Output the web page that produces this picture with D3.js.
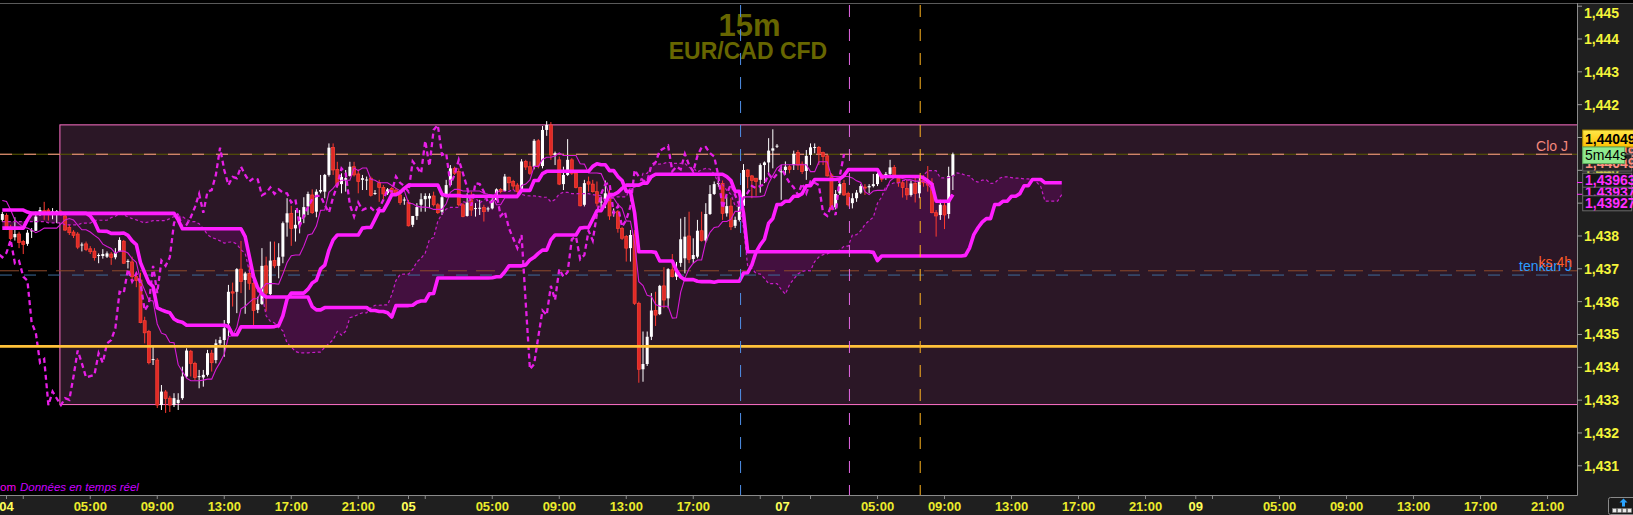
<!DOCTYPE html>
<html><head><meta charset="utf-8">
<script src="https://cdn.jsdelivr.net/npm/d3@7"></script>
<style>
html,body{margin:0;padding:0;background:#000;overflow:hidden}
svg{display:block}
text{font-family:"Liberation Sans",Arial,sans-serif}
</style></head><body>
<svg id="c" width="1633" height="515"></svg>
<script>
// ---------------- DATA ----------------
const firstSlot = -1;               // slot index of first candle (15-minute slots)
// [open, high, low, close]
const ohlc = [
[1.43849,1.43873,1.43843,1.43867],[1.43863,1.43869,1.43818,1.43821],[1.43821,1.43834,1.43786,1.43792],[1.43796,1.43857,1.43786,1.43806],
[1.43806,1.43813,1.43763,1.43780],[1.43783,1.43788,1.43745,1.43774],[1.43776,1.43818,1.43770,1.43810],[1.43816,1.43824,1.43794,1.43817],
[1.43816,1.43874,1.43815,1.43859],[1.43873,1.43888,1.43861,1.43879],[1.43877,1.43904,1.43849,1.43873],[1.43879,1.43885,1.43847,1.43869],
[1.43874,1.43885,1.43851,1.43875],[1.43873,1.43879,1.43839,1.43876],[1.43873,1.43879,1.43861,1.43867],[1.43861,1.43870,1.43815,1.43818],
[1.43826,1.43834,1.43803,1.43810],[1.43812,1.43818,1.43794,1.43802],[1.43806,1.43812,1.43760,1.43766],[1.43771,1.43780,1.43753,1.43774],
[1.43776,1.43783,1.43754,1.43759],[1.43761,1.43769,1.43745,1.43752],[1.43754,1.43763,1.43725,1.43734],[1.43741,1.43747,1.43717,1.43742],
[1.43739,1.43760,1.43731,1.43745],[1.43737,1.43753,1.43733,1.43747],[1.43745,1.43751,1.43712,1.43735],[1.43735,1.43763,1.43729,1.43749],
[1.43753,1.43796,1.43751,1.43788],[1.43784,1.43788,1.43715,1.43717],[1.43721,1.43729,1.43701,1.43724],[1.43721,1.43737,1.43666,1.43676],
[1.43676,1.43690,1.43644,1.43664],[1.43666,1.43688,1.43534,1.43536],[1.43542,1.43554,1.43473,1.43505],[1.43509,1.43514,1.43409,1.43414],
[1.43422,1.43468,1.43407,1.43425],[1.43422,1.43428,1.43276,1.43285],[1.43285,1.43346,1.43270,1.43326],[1.43325,1.43331,1.43261,1.43305],
[1.43306,1.43313,1.43264,1.43285],[1.43285,1.43321,1.43279,1.43306],[1.43291,1.43321,1.43270,1.43301],[1.43306,1.43402,1.43301,1.43372],
[1.43372,1.43458,1.43367,1.43451],[1.43449,1.43453,1.43372,1.43412],[1.43412,1.43417,1.43361,1.43369],[1.43372,1.43392,1.43336,1.43373],
[1.43369,1.43392,1.43341,1.43377],[1.43377,1.43453,1.43372,1.43443],[1.43443,1.43453,1.43387,1.43414],[1.43422,1.43485,1.43412,1.43473],
[1.43473,1.43493,1.43463,1.43483],[1.43483,1.43544,1.43432,1.43519],[1.43534,1.43651,1.43493,1.43630],[1.43630,1.43658,1.43585,1.43626],
[1.43630,1.43702,1.43565,1.43699],[1.43699,1.43785,1.43626,1.43661],[1.43666,1.43691,1.43563,1.43686],[1.43686,1.43709,1.43636,1.43656],
[1.43656,1.43666,1.43524,1.43573],[1.43575,1.43615,1.43565,1.43593],[1.43593,1.43763,1.43590,1.43709],[1.43709,1.43737,1.43570,1.43626],
[1.43623,1.43783,1.43620,1.43725],[1.43725,1.43783,1.43702,1.43709],[1.43709,1.43778,1.43671,1.43735],[1.43737,1.43844,1.43717,1.43839],
[1.43841,1.43915,1.43798,1.43869],[1.43869,1.43892,1.43770,1.43823],[1.43823,1.43879,1.43783,1.43834],[1.43834,1.43879,1.43808,1.43857],
[1.43857,1.43918,1.43839,1.43888],[1.43890,1.43935,1.43864,1.43928],[1.43925,1.43942,1.43867,1.43871],[1.43874,1.43942,1.43857,1.43935],
[1.43935,1.43986,1.43930,1.43940],[1.43935,1.43989,1.43915,1.43986],[1.43986,1.44082,1.43981,1.44069],[1.44070,1.44082,1.43986,1.44001],
[1.44003,1.44026,1.43950,1.43955],[1.43958,1.43991,1.43930,1.43980],[1.43971,1.44001,1.43935,1.43976],[1.43983,1.44026,1.43981,1.44011],
[1.44011,1.44026,1.43981,1.43986],[1.43989,1.44003,1.43930,1.43966],[1.43971,1.43986,1.43940,1.43976],[1.43971,1.43981,1.43940,1.43972],
[1.43976,1.43981,1.43920,1.43924],[1.43930,1.43940,1.43925,1.43931],[1.43962,1.43971,1.43904,1.43948],[1.43948,1.43955,1.43912,1.43928],
[1.43930,1.43946,1.43925,1.43942],[1.43945,1.43950,1.43928,1.43932],[1.43940,1.43946,1.43925,1.43930],[1.43925,1.43930,1.43895,1.43902],
[1.43910,1.43918,1.43895,1.43911],[1.43902,1.43910,1.43829,1.43831],[1.43834,1.43861,1.43827,1.43861],[1.43861,1.43900,1.43849,1.43888],
[1.43895,1.43930,1.43874,1.43912],[1.43912,1.43930,1.43874,1.43922],[1.43914,1.43930,1.43885,1.43922],[1.43922,1.43935,1.43890,1.43895],
[1.43895,1.43900,1.43867,1.43871],[1.43874,1.43925,1.43864,1.43918],[1.43920,1.43971,1.43918,1.43955],[1.43955,1.44016,1.43952,1.44006],
[1.44006,1.44011,1.43986,1.43991],[1.43996,1.44006,1.43890,1.43895],[1.43895,1.43900,1.43857,1.43859],[1.43861,1.43930,1.43859,1.43902],
[1.43910,1.43935,1.43861,1.43879],[1.43884,1.43900,1.43859,1.43885],[1.43885,1.43910,1.43864,1.43886],[1.43887,1.43895,1.43844,1.43874],
[1.43883,1.43889,1.43874,1.43884],[1.43884,1.43915,1.43881,1.43910],[1.43910,1.43945,1.43908,1.43942],[1.43942,1.43946,1.43930,1.43935],
[1.43937,1.43989,1.43935,1.43981],[1.43979,1.43981,1.43940,1.43962],[1.43966,1.43971,1.43940,1.43952],[1.43955,1.43961,1.43930,1.43935],
[1.43940,1.44034,1.43938,1.44027],[1.44027,1.44032,1.44001,1.44010],[1.44011,1.44027,1.43986,1.43991],[1.44011,1.44095,1.44003,1.44090],
[1.44090,1.44095,1.44006,1.44013],[1.44013,1.44135,1.44006,1.44123],[1.44123,1.44150,1.44105,1.44138],[1.44138,1.44147,1.44032,1.44047],
[1.44047,1.44057,1.44016,1.44052],[1.44032,1.44042,1.43955,1.43958],[1.43958,1.44011,1.43940,1.43986],[1.43986,1.44095,1.43983,1.44032],
[1.44032,1.44037,1.43986,1.43991],[1.43991,1.43996,1.43945,1.43948],[1.43948,1.43950,1.43890,1.43892],[1.43895,1.43971,1.43890,1.43961],
[1.43965,1.43981,1.43935,1.43958],[1.43958,1.43971,1.43932,1.43935],[1.43935,1.43966,1.43890,1.43900],[1.43904,1.43920,1.43885,1.43905],
[1.43908,1.43969,1.43885,1.43930],[1.43930,1.43945,1.43849,1.43861],[1.43869,1.43884,1.43859,1.43874],[1.43874,1.43879,1.43810,1.43823],
[1.43823,1.43828,1.43788,1.43793],[1.43798,1.43803,1.43722,1.43763],[1.43763,1.43818,1.43722,1.43803],[1.43803,1.43818,1.43590,1.43595],
[1.43595,1.43600,1.43353,1.43394],[1.43394,1.43509,1.43356,1.43410],[1.43410,1.43509,1.43404,1.43493],[1.43493,1.43626,1.43483,1.43573],
[1.43573,1.43630,1.43526,1.43559],[1.43562,1.43651,1.43559,1.43648],[1.43648,1.43705,1.43580,1.43605],[1.43610,1.43702,1.43580,1.43699],
[1.43697,1.43745,1.43674,1.43676],[1.43676,1.43721,1.43666,1.43690],[1.43718,1.43853,1.43706,1.43790],[1.43732,1.43858,1.43686,1.43798],
[1.43800,1.43874,1.43717,1.43729],[1.43730,1.43793,1.43717,1.43742],[1.43737,1.43849,1.43732,1.43816],[1.43816,1.43874,1.43783,1.43786],
[1.43786,1.43900,1.43780,1.43867],[1.43867,1.43955,1.43864,1.43928],[1.43928,1.43966,1.43925,1.43958],[1.43960,1.43971,1.43950,1.43961],
[1.43960,1.43969,1.43849,1.43869],[1.43869,1.43920,1.43859,1.43891],[1.43891,1.43915,1.43818,1.43828],[1.43831,1.43859,1.43824,1.43849],
[1.43849,1.43915,1.43844,1.43890],[1.43892,1.44019,1.43890,1.44001],[1.44001,1.44003,1.43945,1.43981],[1.43983,1.43986,1.43915,1.43969],
[1.43976,1.43976,1.43922,1.43966],[1.43971,1.44021,1.43932,1.44016],[1.44016,1.44027,1.43961,1.44024],[1.44024,1.44098,1.43986,1.44060],
[1.44060,1.44125,1.44006,1.44067],[1.44074,1.44080,1.44068,1.44075],[1.43996,1.44016,1.43910,1.43997],[1.44001,1.44027,1.43986,1.44011],
[1.44011,1.44016,1.43991,1.44003],[1.44016,1.44060,1.44001,1.44050],[1.44054,1.44062,1.44001,1.44016],[1.44019,1.44027,1.43989,1.43996],
[1.43998,1.44062,1.43971,1.44044],[1.44047,1.44082,1.44016,1.44070],[1.44070,1.44082,1.44052,1.44071],[1.44070,1.44074,1.44016,1.44052],
[1.44054,1.44057,1.44016,1.44042],[1.44044,1.44047,1.43981,1.43983],[1.43986,1.43991,1.43879,1.43884],[1.43887,1.43940,1.43881,1.43928],
[1.43930,1.43966,1.43925,1.43958],[1.43960,1.43971,1.43922,1.43925],[1.43930,1.43935,1.43890,1.43895],[1.43900,1.43930,1.43884,1.43915],
[1.43915,1.43940,1.43904,1.43932],[1.43932,1.43958,1.43928,1.43952],[1.43949,1.43958,1.43925,1.43946],[1.43948,1.43958,1.43930,1.43952],
[1.43952,1.43989,1.43948,1.43958],[1.43958,1.43992,1.43952,1.43989],[1.43986,1.43989,1.43965,1.43973],[1.43983,1.43995,1.43971,1.43989],
[1.43989,1.44032,1.43986,1.44009],[1.44009,1.44016,1.43981,1.43983],[1.43976,1.43981,1.43950,1.43962],[1.43962,1.43971,1.43917,1.43948],
[1.43945,1.43971,1.43910,1.43925],[1.43925,1.43969,1.43920,1.43960],[1.43960,1.43981,1.43902,1.43930],[1.43930,1.43981,1.43915,1.43966],
[1.43971,1.43986,1.43950,1.43962],[1.43966,1.44013,1.43935,1.43955],[1.43960,1.43976,1.43869,1.43871],[1.43871,1.43879,1.43798,1.43861],
[1.43864,1.43910,1.43849,1.43895],[1.43892,1.43908,1.43821,1.43864],[1.43867,1.44011,1.43853,1.43983],[1.43983,1.44054,1.43940,1.44049]
];
// Ichimoku lines: [slot, price]
const tenkan = [[-1,1.43908],[0,1.43905],[1,1.43879],[2,1.43849],[3,1.43837],[4,1.43827],[5,1.43824],[6,1.43818],[7,1.43810],[8,1.43816],[9,1.43824],[12,1.43824],[13,1.43837],[14,1.43849],[15,1.43853],[16,1.43849],[17,1.43833],[18,1.43819],[19,1.43819],[20,1.43812],[21,1.43802],[22,1.43793],[23,1.43775],[24,1.43768],[25,1.43762],[26,1.43747],[27,1.43754],[28,1.43754],[29,1.43748],[30,1.43731],[31,1.43720],[32,1.43665],[33,1.43635],[34,1.43604],[35,1.43602],[36,1.43532],[37,1.43504],[38,1.43499],[39,1.43476],[40,1.43475],[41,1.43408],[42,1.43387],[43,1.43367],[44,1.43359],[46,1.43359],[47,1.43361],[48,1.43364],[49,1.43364],[50,1.43393],[51,1.43415],[52,1.43440],[53,1.43493],[54,1.43497],[55,1.43521],[56,1.43578],[57,1.43586],[58,1.43598],[59,1.43609],[60,1.43609],[61,1.43639],[62,1.43655],[64,1.43655],[65,1.43653],[66,1.43684],[67,1.43719],[68,1.43740],[69,1.43742],[70,1.43742],[71,1.43769],[72,1.43803],[73,1.43807],[74,1.43830],[75,1.43878],[76,1.43879],[77,1.43933],[78,1.43945],[79,1.43961],[80,1.43970],[82,1.43970],[83,1.44007],[84,1.43999],[85,1.44007],[86,1.44007],[87,1.43973],[88,1.43970],[89,1.43962],[91,1.43962],[92,1.43954],[93,1.43945],[94,1.43938],[95,1.43938],[96,1.43900],[97,1.43898],[98,1.43891],[99,1.43888],[100,1.43888],[101,1.43886],[102,1.43881],[104,1.43881],[105,1.43898],[106,1.43933],[107,1.43942],[108,1.43942],[109,1.43937],[113,1.43937],[114,1.43930],[115,1.43927],[116,1.43925],[117,1.43895],[118,1.43895],[119,1.43916],[122,1.43916],[123,1.43954],[124,1.43958],[125,1.43971],[126,1.44012],[127,1.44012],[128,1.44033],[129,1.44040],[130,1.44040],[131,1.44044],[132,1.44053],[133,1.44045],[136,1.44045],[137,1.44020],[138,1.44019],[139,1.43992],[141,1.43992],[142,1.43990],[143,1.43961],[144,1.43923],[145,1.43915],[146,1.43896],[147,1.43884],[148,1.43846],[149,1.43845],[150,1.43779],[151,1.43661],[152,1.43649],[153,1.43619],[154,1.43616],[155,1.43591],[156,1.43586],[158,1.43586],[159,1.43550],[160,1.43551],[161,1.43629],[162,1.43671],[163,1.43700],[164,1.43717],[165,1.43727],[166,1.43727],[167,1.43783],[168,1.43811],[169,1.43826],[170,1.43828],[171,1.43844],[172,1.43844],[173,1.43851],[174,1.43875],[175,1.43875],[176,1.43919],[179,1.43919],[180,1.43920],[181,1.43923],[182,1.43961],[183,1.43984],[184,1.44007],[185,1.44017],[191,1.44017],[192,1.43996],[193,1.43996],[194,1.44026],[196,1.44026],[197,1.43981],[201,1.43981],[202,1.43977],[203,1.43968],[204,1.43963],[205,1.43935],[206,1.43926],[207,1.43937],[208,1.43939],[209,1.43939],[210,1.43940],[211,1.43968],[212,1.43978],[213,1.43978],[214,1.43975],[215,1.43971],[216,1.43971],[217,1.43967],[219,1.43967],[220,1.43959],[221,1.43941],[222,1.43906],[225,1.43906],[226,1.43926]];
const kijun = [[-1,1.43879],[4,1.43879],[5,1.43873],[6,1.43869],[19,1.43869],[20,1.43861],[21,1.43843],[22,1.43815],[24,1.43814],[25,1.43808],[27,1.43808],[28,1.43809],[29,1.43802],[30,1.43785],[31,1.43774],[32,1.43719],[33,1.43688],[34,1.43658],[35,1.43646],[36,1.43581],[37,1.43575],[38,1.43570],[39,1.43566],[40,1.43547],[41,1.43540],[42,1.43537],[43,1.43528],[52,1.43528],[53,1.43524],[54,1.43499],[55,1.43499],[56,1.43523],[63,1.43523],[64,1.43524],[65,1.43527],[66,1.43557],[67,1.43608],[68,1.43626],[71,1.43626],[72,1.43638],[73,1.43657],[74,1.43665],[75,1.43700],[76,1.43711],[77,1.43757],[78,1.43788],[79,1.43803],[84,1.43803],[85,1.43824],[86,1.43826],[87,1.43826],[88,1.43851],[89,1.43877],[90,1.43877],[91,1.43900],[92,1.43926],[93,1.43926],[94,1.43933],[95,1.43945],[96,1.43955],[103,1.43955],[104,1.43927],[105,1.43923],[108,1.43923],[109,1.43921],[122,1.43921],[123,1.43939],[125,1.43939],[126,1.43969],[127,1.43969],[128,1.43990],[129,1.43997],[139,1.43997],[140,1.44012],[141,1.44020],[142,1.44017],[143,1.44017],[144,1.43999],[145,1.43999],[146,1.43981],[147,1.43969],[148,1.43936],[149,1.43936],[150,1.43870],[151,1.43752],[154,1.43752],[155,1.43750],[156,1.43724],[159,1.43724],[160,1.43695],[161,1.43675],[162,1.43667],[164,1.43667],[165,1.43662],[166,1.43661],[168,1.43661],[169,1.43659],[170,1.43662],[175,1.43662],[176,1.43687],[177,1.43688],[178,1.43712],[179,1.43751],[180,1.43773],[181,1.43790],[182,1.43839],[183,1.43853],[184,1.43896],[185,1.43896],[186,1.43906],[187,1.43906],[188,1.43921],[189,1.43921],[190,1.43929],[191,1.43953],[192,1.43953],[193,1.43972],[198,1.43972],[199,1.43974],[200,1.43984],[201,1.44002],[208,1.44002],[209,1.43980],[210,1.43981],[218,1.43981],[219,1.43977],[220,1.43968],[221,1.43958],[222,1.43906],[225,1.43906],[226,1.43926]];
const senkouA = [[-1,1.43844],[9,1.43844],[10,1.43840],[13,1.43840],[14,1.43834],[17,1.43834],[18,1.43839],[20,1.43839],[21,1.43848],[24,1.43848],[25,1.43856],[26,1.43860],[27,1.43868],[28,1.43864],[29,1.43858],[30,1.43853],[31,1.43849],[32,1.43844],[33,1.43840],[34,1.43843],[35,1.43847],[38,1.43847],[39,1.43853],[40,1.43859],[41,1.43861],[42,1.43859],[43,1.43851],[44,1.43844],[45,1.43844],[46,1.43837],[47,1.43823],[48,1.43804],[49,1.43795],[50,1.43791],[51,1.43785],[52,1.43778],[53,1.43781],[54,1.43782],[55,1.43775],[56,1.43758],[57,1.43747],[58,1.43692],[59,1.43662],[60,1.43631],[61,1.43624],[62,1.43557],[63,1.43540],[64,1.43535],[65,1.43521],[66,1.43511],[67,1.43474],[68,1.43462],[69,1.43448],[70,1.43444],[72,1.43444],[73,1.43445],[74,1.43446],[75,1.43446],[76,1.43461],[77,1.43472],[78,1.43484],[79,1.43509],[80,1.43498],[81,1.43510],[82,1.43551],[83,1.43555],[84,1.43561],[85,1.43566],[86,1.43566],[87,1.43581],[88,1.43589],[89,1.43589],[90,1.43590],[91,1.43590],[92,1.43621],[93,1.43664],[94,1.43683],[95,1.43684],[96,1.43684],[97,1.43698],[98,1.43721],[99,1.43732],[100,1.43748],[101,1.43789],[102,1.43795],[103,1.43845],[104,1.43867],[105,1.43882],[106,1.43887],[108,1.43887],[109,1.43905],[110,1.43901],[111,1.43916],[112,1.43917],[113,1.43900],[114,1.43911],[115,1.43920],[116,1.43920],[117,1.43931],[118,1.43940],[119,1.43936],[120,1.43936],[121,1.43942],[122,1.43928],[123,1.43927],[124,1.43923],[125,1.43922],[126,1.43922],[127,1.43921],[128,1.43918],[129,1.43918],[130,1.43904],[131,1.43911],[132,1.43928],[133,1.43933],[134,1.43933],[135,1.43929],[139,1.43929],[140,1.43926],[141,1.43924],[142,1.43923],[143,1.43908],[144,1.43908],[145,1.43919],[148,1.43919],[149,1.43947],[150,1.43949],[151,1.43955],[152,1.43991],[153,1.43991],[154,1.44012],[155,1.44019],[156,1.44019],[157,1.44021],[158,1.44025],[159,1.44021],[162,1.44021],[163,1.44009],[164,1.44008],[165,1.43995],[166,1.44002],[167,1.44006],[168,1.44004],[169,1.43989],[170,1.43961],[171,1.43957],[172,1.43939],[173,1.43927],[174,1.43891],[175,1.43891],[176,1.43825],[177,1.43707],[178,1.43701],[179,1.43686],[180,1.43684],[181,1.43671],[182,1.43655],[184,1.43655],[185,1.43637],[186,1.43623],[187,1.43652],[188,1.43669],[189,1.43684],[190,1.43692],[191,1.43695],[192,1.43694],[193,1.43722],[194,1.43736],[195,1.43743],[196,1.43745],[197,1.43753],[198,1.43753],[199,1.43757],[200,1.43769],[201,1.43769],[202,1.43803],[203,1.43804],[204,1.43816],[205,1.43835],[206,1.43847],[207,1.43857],[208,1.43900],[209,1.43919],[210,1.43952],[211,1.43957],[212,1.43962],[213,1.43962],[214,1.43969],[215,1.43969],[216,1.43973],[217,1.43985],[218,1.43975],[219,1.43984],[220,1.43999],[222,1.43999],[223,1.43977],[224,1.43977],[225,1.43978],[226,1.43983],[227,1.43992],[228,1.43990],[229,1.43985],[230,1.43983],[231,1.43969],[232,1.43964],[233,1.43970],[234,1.43971],[235,1.43960],[236,1.43961],[237,1.43975],[238,1.43980],[239,1.43980],[240,1.43978],[241,1.43976],[242,1.43976],[243,1.43974],[244,1.43974],[245,1.43972],[246,1.43964],[247,1.43950],[248,1.43906],[251,1.43906],[252,1.43926]];
const senkouB = [[-1,1.43824],[4,1.43824],[5,1.43849],[6,1.43869],[40,1.43869],[41,1.43849],[42,1.43822],[56,1.43822],[57,1.43798],[58,1.43737],[59,1.43676],[60,1.43642],[61,1.43624],[62,1.43614],[72,1.43614],[73,1.43585],[74,1.43575],[75,1.43575],[76,1.43582],[86,1.43582],[87,1.43573],[88,1.43573],[89,1.43570],[90,1.43570],[91,1.43566],[92,1.43553],[93,1.43588],[96,1.43588],[97,1.43589],[98,1.43598],[99,1.43602],[100,1.43602],[101,1.43624],[102,1.43625],[103,1.43672],[115,1.43672],[116,1.43673],[117,1.43676],[118,1.43676],[119,1.43691],[120,1.43709],[123,1.43709],[124,1.43712],[125,1.43727],[126,1.43735],[127,1.43747],[128,1.43757],[129,1.43757],[130,1.43788],[131,1.43803],[136,1.43803],[137,1.43824],[138,1.43826],[139,1.43826],[140,1.43851],[141,1.43877],[142,1.43877],[143,1.43900],[144,1.43926],[145,1.43926],[146,1.43933],[147,1.43945],[148,1.43955],[151,1.43955],[152,1.43961],[153,1.43961],[154,1.43981],[155,1.43988],[171,1.43988],[172,1.43981],[173,1.43969],[174,1.43936],[175,1.43936],[176,1.43870],[177,1.43752],[206,1.43752],[207,1.43750],[208,1.43725],[209,1.43739],[228,1.43739],[229,1.43741],[230,1.43764],[231,1.43804],[232,1.43825],[233,1.43842],[234,1.43853],[235,1.43853],[236,1.43896],[237,1.43896],[238,1.43906],[239,1.43906],[240,1.43921],[241,1.43921],[242,1.43929],[243,1.43953],[244,1.43953],[245,1.43972],[247,1.43972],[248,1.43962],[252,1.43962]];
const chikouLag = 26;   // lagging span = closes displaced 26 bars back

const priceTicks = [1.431,1.432,1.433,1.434,1.435,1.436,1.437,1.438,1.439,1.440,1.441,1.442,1.443,1.444,1.445];
const tickSlots  = [0,4,20,36,52,68,84,96,100,116,132,148,164,180,185.3,192,208,224,240,256,272,284,288,304,320,336,352,368];
const tickLabels = ["04","","05:00","09:00","13:00","17:00","21:00","05","","05:00","09:00","13:00","17:00","","07","","05:00","09:00","13:00","17:00","21:00","09","","05:00","09:00","13:00","17:00","21:00"];
const tickIsDay  = [1,0,0,0,0,0,0,1,0,0,0,0,0,0,1,0,0,0,0,0,0,1,0,0,0,0,0,0];

const levelNames  = ["Clo J","ks 4h","tenkan J","support"];
const levelValues = [1.44049,1.43694,1.43681,1.43464];
const zoneRange   = [12.75, 1.44140, 1.43288];   // start slot, top price, bottom price
const markerSlots = [175.3, 201.3, 218.2];
const tagTexts  = ["1,43937","1,44049","1,44049","1,43963","1,43927","1,44049","5m44s"];
const tagValues = [1.43937,1.44049,1.44049,1.43963,1.43927,1.44049,1.44049];
const titleText = "15m", subtitleText = "EUR/CAD CFD";
const footText1 = "om", footText2 = "Données en temps réel";

// ---------------- LAYOUT ----------------
const PR = 1577, PT = 3, PB = 495;
const x = d3.scaleLinear().domain([-6.5/4.1875, (PR-6.5)/4.1875]).range([0, PR]);
const y = d3.scaleLinear().domain([1.430110, 1.445097]).range([PB, PT]);
const svg = d3.select("#c");
const defs = svg.append("defs");
defs.append("clipPath").attr("id","plot").append("rect").attr("x",0).attr("y",PT).attr("width",PR).attr("height",PB-PT);
const gy = defs.append("linearGradient").attr("id","ytag").attr("x1",0).attr("y1",0).attr("x2",0).attr("y2",1);
gy.append("stop").attr("offset","0").attr("stop-color","#ffe94a");
gy.append("stop").attr("offset","1").attr("stop-color","#ffbf00");

svg.append("rect").attr("width",1633).attr("height",515).attr("fill","#000");
// axis panels
svg.append("rect").attr("x",PR).attr("y",PT).attr("width",1633-PR).attr("height",515-PT).attr("fill","#1f1f1f");
svg.append("rect").attr("x",0).attr("y",PB).attr("width",PR).attr("height",515-PB).attr("fill","#1f1f1f");

const g = svg.append("g").attr("clip-path","url(#plot)");

// zone box
g.append("rect")
  .attr("x", x(zoneRange[0])).attr("y", y(zoneRange[1]) + 0.5)
  .attr("width", PR - x(zoneRange[0]) + 2).attr("height", y(zoneRange[2]) - y(zoneRange[1]))
  .attr("fill","#2b1726").attr("stroke","#ff70c8").attr("stroke-width",1);

// title
g.append("text").attr("x",749.5).attr("y",36).attr("text-anchor","middle")
  .attr("font-size",31).attr("font-weight","bold").attr("fill","#676600").text(titleText);
g.append("text").attr("x",748).attr("y",59.3).attr("text-anchor","middle")
  .attr("font-size",23).attr("font-weight","bold").attr("fill","#676600").text(subtitleText);

const line = d3.line().x(d => x(d[0])).y(d => y(d[1]));

// cloud
const cloudPts = senkouA.concat(senkouB.slice().reverse());
g.append("path").attr("d", line(cloudPts) + "Z").attr("fill","#43103f").attr("stroke","none");

// thin dashed horizontal levels
const hl = (v, color, dash, w) => g.append("line").attr("x1",0).attr("x2",PR)
  .attr("y1",y(v)).attr("y2",y(v)).attr("stroke",color).attr("stroke-width",w||1).attr("stroke-dasharray",dash);
g.append("line").attr("x1",0).attr("x2",PR).attr("y1",y(levelValues[0])).attr("y2",y(levelValues[0]))
  .attr("stroke","#5e5c00").attr("stroke-width",1);
hl(levelValues[0], "#ff9a8c", "12,12");
hl(levelValues[1], "#8e4a2c", "19,9");
hl(levelValues[2], "#3d6c9c", "12,12");

// candles
const cw = 3;
const candles = g.append("g");
ohlc.forEach((d, i) => {
  const s = firstSlot + i, cx = x(s);
  const up = d[3] >= d[0];
  const col = up ? "#ffffff" : "#ff3a30";
  candles.append("line").attr("x1",cx).attr("x2",cx).attr("y1",y(d[1])).attr("y2",y(d[2]))
    .attr("stroke",col).attr("stroke-width",1);
  const top = y(Math.max(d[0], d[3])), bot = y(Math.min(d[0], d[3]));
  candles.append("rect").attr("x",cx - cw/2).attr("y",top).attr("width",cw).attr("height",Math.max(1, bot - top))
    .attr("fill", up ? "#ffffff" : "#e02a26").attr("stroke", up ? "none" : "#ff4236").attr("stroke-width",0.7);
});

// ichimoku lines
const chikou = ohlc.map((d, i) => [firstSlot + i - chikouLag, d[3]]);
g.append("path").attr("d", line(chikou)).attr("fill","none").attr("stroke","#e61ee6")
  .attr("stroke-width",2.3).attr("stroke-dasharray","5,3.5");
g.append("path").attr("d", line(senkouA)).attr("fill","none").attr("stroke","#c81cc8")
  .attr("stroke-width",1.2).attr("stroke-dasharray","3,2.5");
g.append("path").attr("d", line(tenkan)).attr("fill","none").attr("stroke","#d81ad8").attr("stroke-width",1.1);
g.append("path").attr("d", line(senkouB)).attr("fill","none").attr("stroke","#ff1eff")
  .attr("stroke-width",3.6).attr("stroke-linejoin","round");
g.append("path").attr("d", line(kijun)).attr("fill","none").attr("stroke","#ff1eff")
  .attr("stroke-width",3.6).attr("stroke-linejoin","round");

// support line (thick yellow)
g.append("line").attr("x1",0).attr("x2",PR).attr("y1",y(levelValues[3])).attr("y2",y(levelValues[3]))
  .attr("stroke","#ffc23a").attr("stroke-width",2.8);

// vertical markers
const mcol = ["#4f8fe8","#e468e4","#ffb31f"];
markerSlots.forEach((s, i) => {
  g.append("line").attr("x1",x(s)).attr("x2",x(s)).attr("y1",5).attr("y2",PB)
    .attr("stroke",mcol[i]).attr("stroke-width",1).attr("stroke-dasharray","12,12");
});

// level labels
g.append("text").attr("x",1568).attr("y",151).attr("text-anchor","end").attr("font-size",14)
  .attr("fill","#f4877c").text(levelNames[0]);
g.append("text").attr("x",1572).attr("y",270.5).attr("text-anchor","end").attr("font-size",14)
  .attr("fill","#2c9cff").text(levelNames[2]);
g.append("text").attr("x",1572).attr("y",266.5).attr("text-anchor","end").attr("font-size",14)
  .attr("fill","#ff5a26").text(levelNames[1]);

// footer text
svg.append("text").attr("x",0).attr("y",491).attr("font-size",11.5).attr("fill","#f000f0").text(footText1);
svg.append("text").attr("x",20).attr("y",491).attr("font-size",11.5).attr("font-style","italic")
  .attr("fill","#c800ff").text(footText2);

// frame lines
svg.append("line").attr("x1",0).attr("x2",1633).attr("y1",PT+0.5).attr("y2",PT+0.5).attr("stroke","#5a5a5a");
svg.append("line").attr("x1",PR+0.5).attr("x2",PR+0.5).attr("y1",PT).attr("y2",PB+0.5).attr("stroke","#8a8a8a");
svg.append("line").attr("x1",0).attr("x2",PR+0.5).attr("y1",PB+0.5).attr("y2",PB+0.5).attr("stroke","#8a8a8a");

// price axis
const fmt = v => d3.format(".3f")(v).replace(".", ",");
priceTicks.forEach(v => {
  svg.append("line").attr("x1",PR).attr("x2",PR+5).attr("y1",y(v)).attr("y2",y(v)).attr("stroke","#9a9a9a");
  svg.append("text").attr("x",PR+7).attr("y",Math.max(y(v)+5, 17.5)).attr("font-size",14)
    .attr("font-weight","bold").attr("fill","#f4f43a").text(fmt(v));
});

// time axis
tickSlots.forEach((s, i) => {
  svg.append("line").attr("x1",x(s)).attr("x2",x(s)).attr("y1",PB+1).attr("y2",PB+4).attr("stroke","#8a8a8a");
  if (tickLabels[i]) svg.append("text").attr("x",x(s)).attr("y",510.7).attr("text-anchor","middle")
    .attr("font-size",13).attr("font-weight","bold")
    .attr("fill", tickIsDay[i] ? "#ffff5a" : "#ecec2c").text(tickLabels[i]);
});

// magenta level ticks on axis
[tagValues[3], tagValues[4]].forEach(v => svg.append("line").attr("x1",PR).attr("x2",PR+6)
  .attr("y1",y(v)).attr("y2",y(v)).attr("stroke","#ff2eff").attr("stroke-width",1));

// value tags (stacked to avoid overlap)
const tag = (i, dy, h, fill, stroke, color, bold, w) => {
  const cy = y(tagValues[i]) + dy;
  svg.append("rect").attr("x",PR+5.7).attr("y",cy - h/2).attr("width",w || 49).attr("height",h)
    .attr("fill",fill).attr("stroke",stroke).attr("stroke-width",1);
  svg.append("text").attr("x",PR+8).attr("y",cy + 5).attr("font-size",14)
    .attr("font-weight", bold ? "bold" : "normal").attr("fill",color).text(tagTexts[i]);
};
tag(0, 0.9, 14, "#161616", "#6a6a6a", "#ff2eff", true);
tag(1, -2.7, 17, "#262626", "#6a6a6a", "#ff8e80", true);
tag(2, 8.3, 17, "#262626", "#6a6a6a", "#ff8e80", true);
tag(3, -2.3, 14, "#161616", "#6a6a6a", "#ff2eff", true);
tag(4, 9, 15, "#161616", "#6a6a6a", "#ff2eff", true);
tag(5, -15.7, 17, "url(#ytag)", "#b08a00", "#000", true, 52);
tag(6, 1, 16.5, "#8fe98f", "#5aa85a", "#000", false, 42);

// corner icon
svg.append("rect").attr("x",1608.5).attr("y",497.5).attr("width",30).attr("height",17).attr("rx",2)
  .attr("fill","#1a1a1a").attr("stroke","#8a8a8a");
svg.append("path").attr("d","M1623.5,498.5 L1627.5,502.5 L1625,502.5 L1625,506.5 L1622,506.5 L1622,502.5 L1619.5,502.5 Z")
  .attr("fill","#29a3ff");
[0,1,2,3].forEach(k => svg.append("rect").attr("x",1612.5 + k*5).attr("y",508.5).attr("width",4).attr("height",4)
  .attr("fill","#e8e8e8").attr("stroke","#777").attr("stroke-width",0.5));
</script>
</body></html>
